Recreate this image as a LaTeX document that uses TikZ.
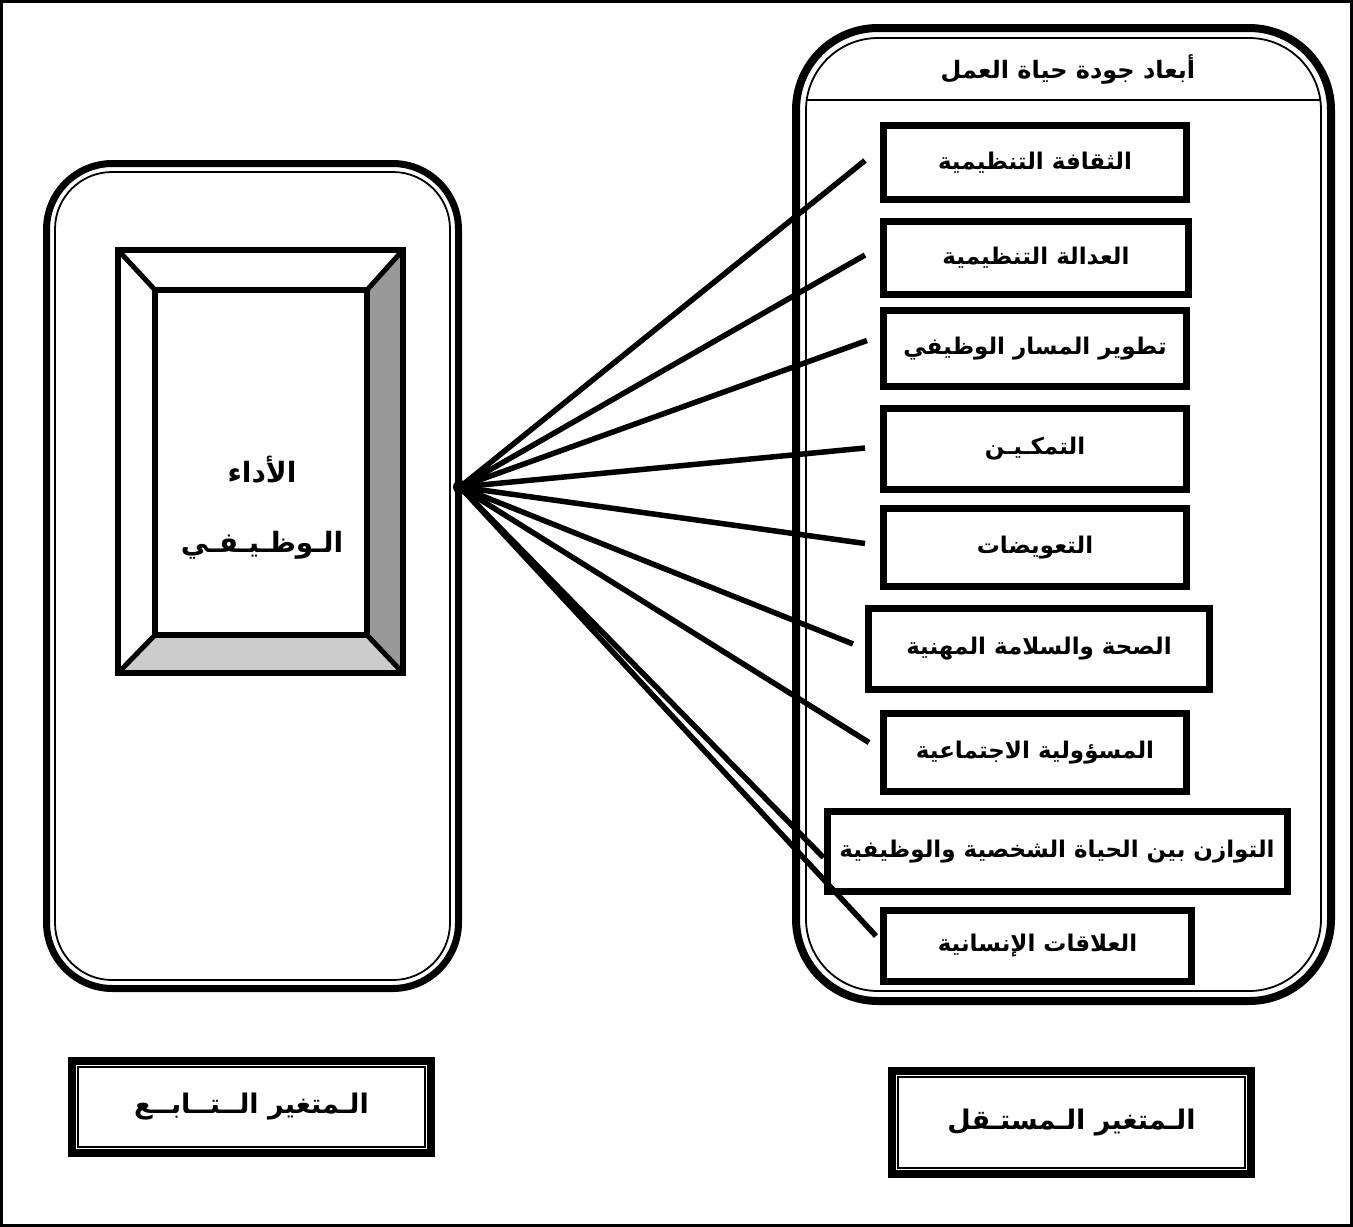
\documentclass[tikz,border=0pt]{standalone}
\usepackage{fontspec}
\newfontfamily\arabicfont[Script=Arabic]{DejaVu Sans}
\TeXXeTstate=1
\usetikzlibrary{calc}
\newcommand\artxt[1]{{\arabicfont\bfseries\beginR #1\endR}}
\begin{document}
\begin{tikzpicture}[x=1pt,y=-1pt,
  dimbox/.style={draw, line width=7pt, inner sep=0pt, minimum width=303pt, minimum height=76pt, font=\fontsize{23}{27}\selectfont},
  conn/.style={line width=5.5pt},
  bigthick/.style={line width=8pt},
  thinline/.style={line width=1.8pt},
  captext/.style={font=\fontsize{28}{33}\selectfont}
]
\useasboundingbox (0,0) rectangle (1353,1227);
% outer frame
\draw[line width=3pt] (1.5,1.5) rectangle (1351.5,1225.5);

% left rounded box
\draw[line width=7pt, rounded corners=66pt] (46.5,163.5) rectangle (458.5,988.5);
\draw[thinline, rounded corners=57pt] (55,172) rectangle (450,980);

% right rounded box
\draw[bigthick, rounded corners=82pt] (796,28) rectangle (1331,1001);
\draw[thinline, rounded corners=72pt] (806,38) rectangle (1321,991);
\draw[thinline] (806,100) -- (1321,100);
\node[font=\fontsize{24}{28}\selectfont] (head) at (1068,70) {\artxt{أبعاد جودة حياة العمل}};

% bevel square
\fill[black!40] (403,250) -- (403,673) -- (367,635) -- (367,290) -- cycle;
\fill[black!20] (118,673) -- (403,673) -- (367,635) -- (155,635) -- cycle;
\draw[line width=6pt] (118,250) rectangle (403,673);
\draw[line width=6pt] (155,290) rectangle (367,635);
\draw[line width=5pt] (118,250) -- (155,290);
\draw[line width=5pt] (403,250) -- (367,290);
\draw[line width=5pt] (118,673) -- (155,635);
\draw[line width=5pt] (403,673) -- (367,635);
\node[captext] (perf1) at (262,470) {\artxt{الأداء}};
\node[captext] (perf2) at (262,545) {\artxt{الـوظـيـفـي}};

\coordinate (hub) at (460,487);

% dimension boxes
\node[dimbox, minimum height=74pt] (b1) at (1035,162.5) {\artxt{الثقافة التنظيمية}};
\node[dimbox, minimum width=305pt, minimum height=73pt] (b2) at (1036,258) {\artxt{العدالة التنظيمية}};
\node[dimbox] (b3) at (1035,348.5) {\artxt{تطوير المسار الوظيفي}};
\node[dimbox, minimum height=81pt] (b4) at (1035,449) {\artxt{التمكـيـن}};
\node[dimbox, minimum height=78pt] (b5) at (1035,547.5) {\artxt{التعويضات}};
\node[dimbox, minimum width=341pt, minimum height=81pt] (b6) at (1039,649) {\artxt{الصحة والسلامة المهنية}};
\node[dimbox, minimum height=78pt] (b7) at (1035,752.5) {\artxt{المسؤولية الاجتماعية}};
\node[dimbox, minimum width=460pt, minimum height=80pt] (b8) at (1057,851.5) {\artxt{التوازن بين الحياة الشخصية والوظيفية}};
\node[dimbox, minimum width=308pt, minimum height=71pt] (b9) at (1037.5,946) {\artxt{العلاقات الإنسانية}};

% connectors
\draw[conn] (hub) -- ($(b1.west)+(-15,-2)$);
\draw[conn] (hub) -- ($(b2.west)+(-15,-3)$);
\draw[conn] (hub) -- ($(b3.west)+(-13,-8)$);
\draw[conn] (hub) -- ($(b4.west)+(-15,-1)$);
\draw[conn] (hub) -- ($(b5.west)+(-15,-4)$);
\draw[conn] (hub) -- ($(b6.west)+(-12,-5)$);
\draw[conn] (hub) -- ($(b7.west)+(-11,-10)$);
\draw[conn] (hub) -- ($(b8.west)+(0,6)$);
\draw[conn] (hub) -- ($(b9.west)+(-4,-10)$);
\fill (hub) circle (7pt);

% bottom labels
\node[draw, bigthick, minimum width=359pt, minimum height=92pt, font=\fontsize{27}{32}\selectfont] (dep) at (251.5,1107) {\artxt{الـمتغير الــتــابــع}};
\draw[thinline] ($(dep.north west)+(10,10)$) rectangle ($(dep.south east)+(-10,-10)$);
\node[draw, bigthick, minimum width=359pt, minimum height=103pt, font=\fontsize{27}{32}\selectfont] (indep) at (1071.5,1122.5) {\artxt{الـمتغير الـمستـقل}};
\draw[thinline] ($(indep.north west)+(10,10)$) rectangle ($(indep.south east)+(-10,-10)$);
\end{tikzpicture}
\end{document}
